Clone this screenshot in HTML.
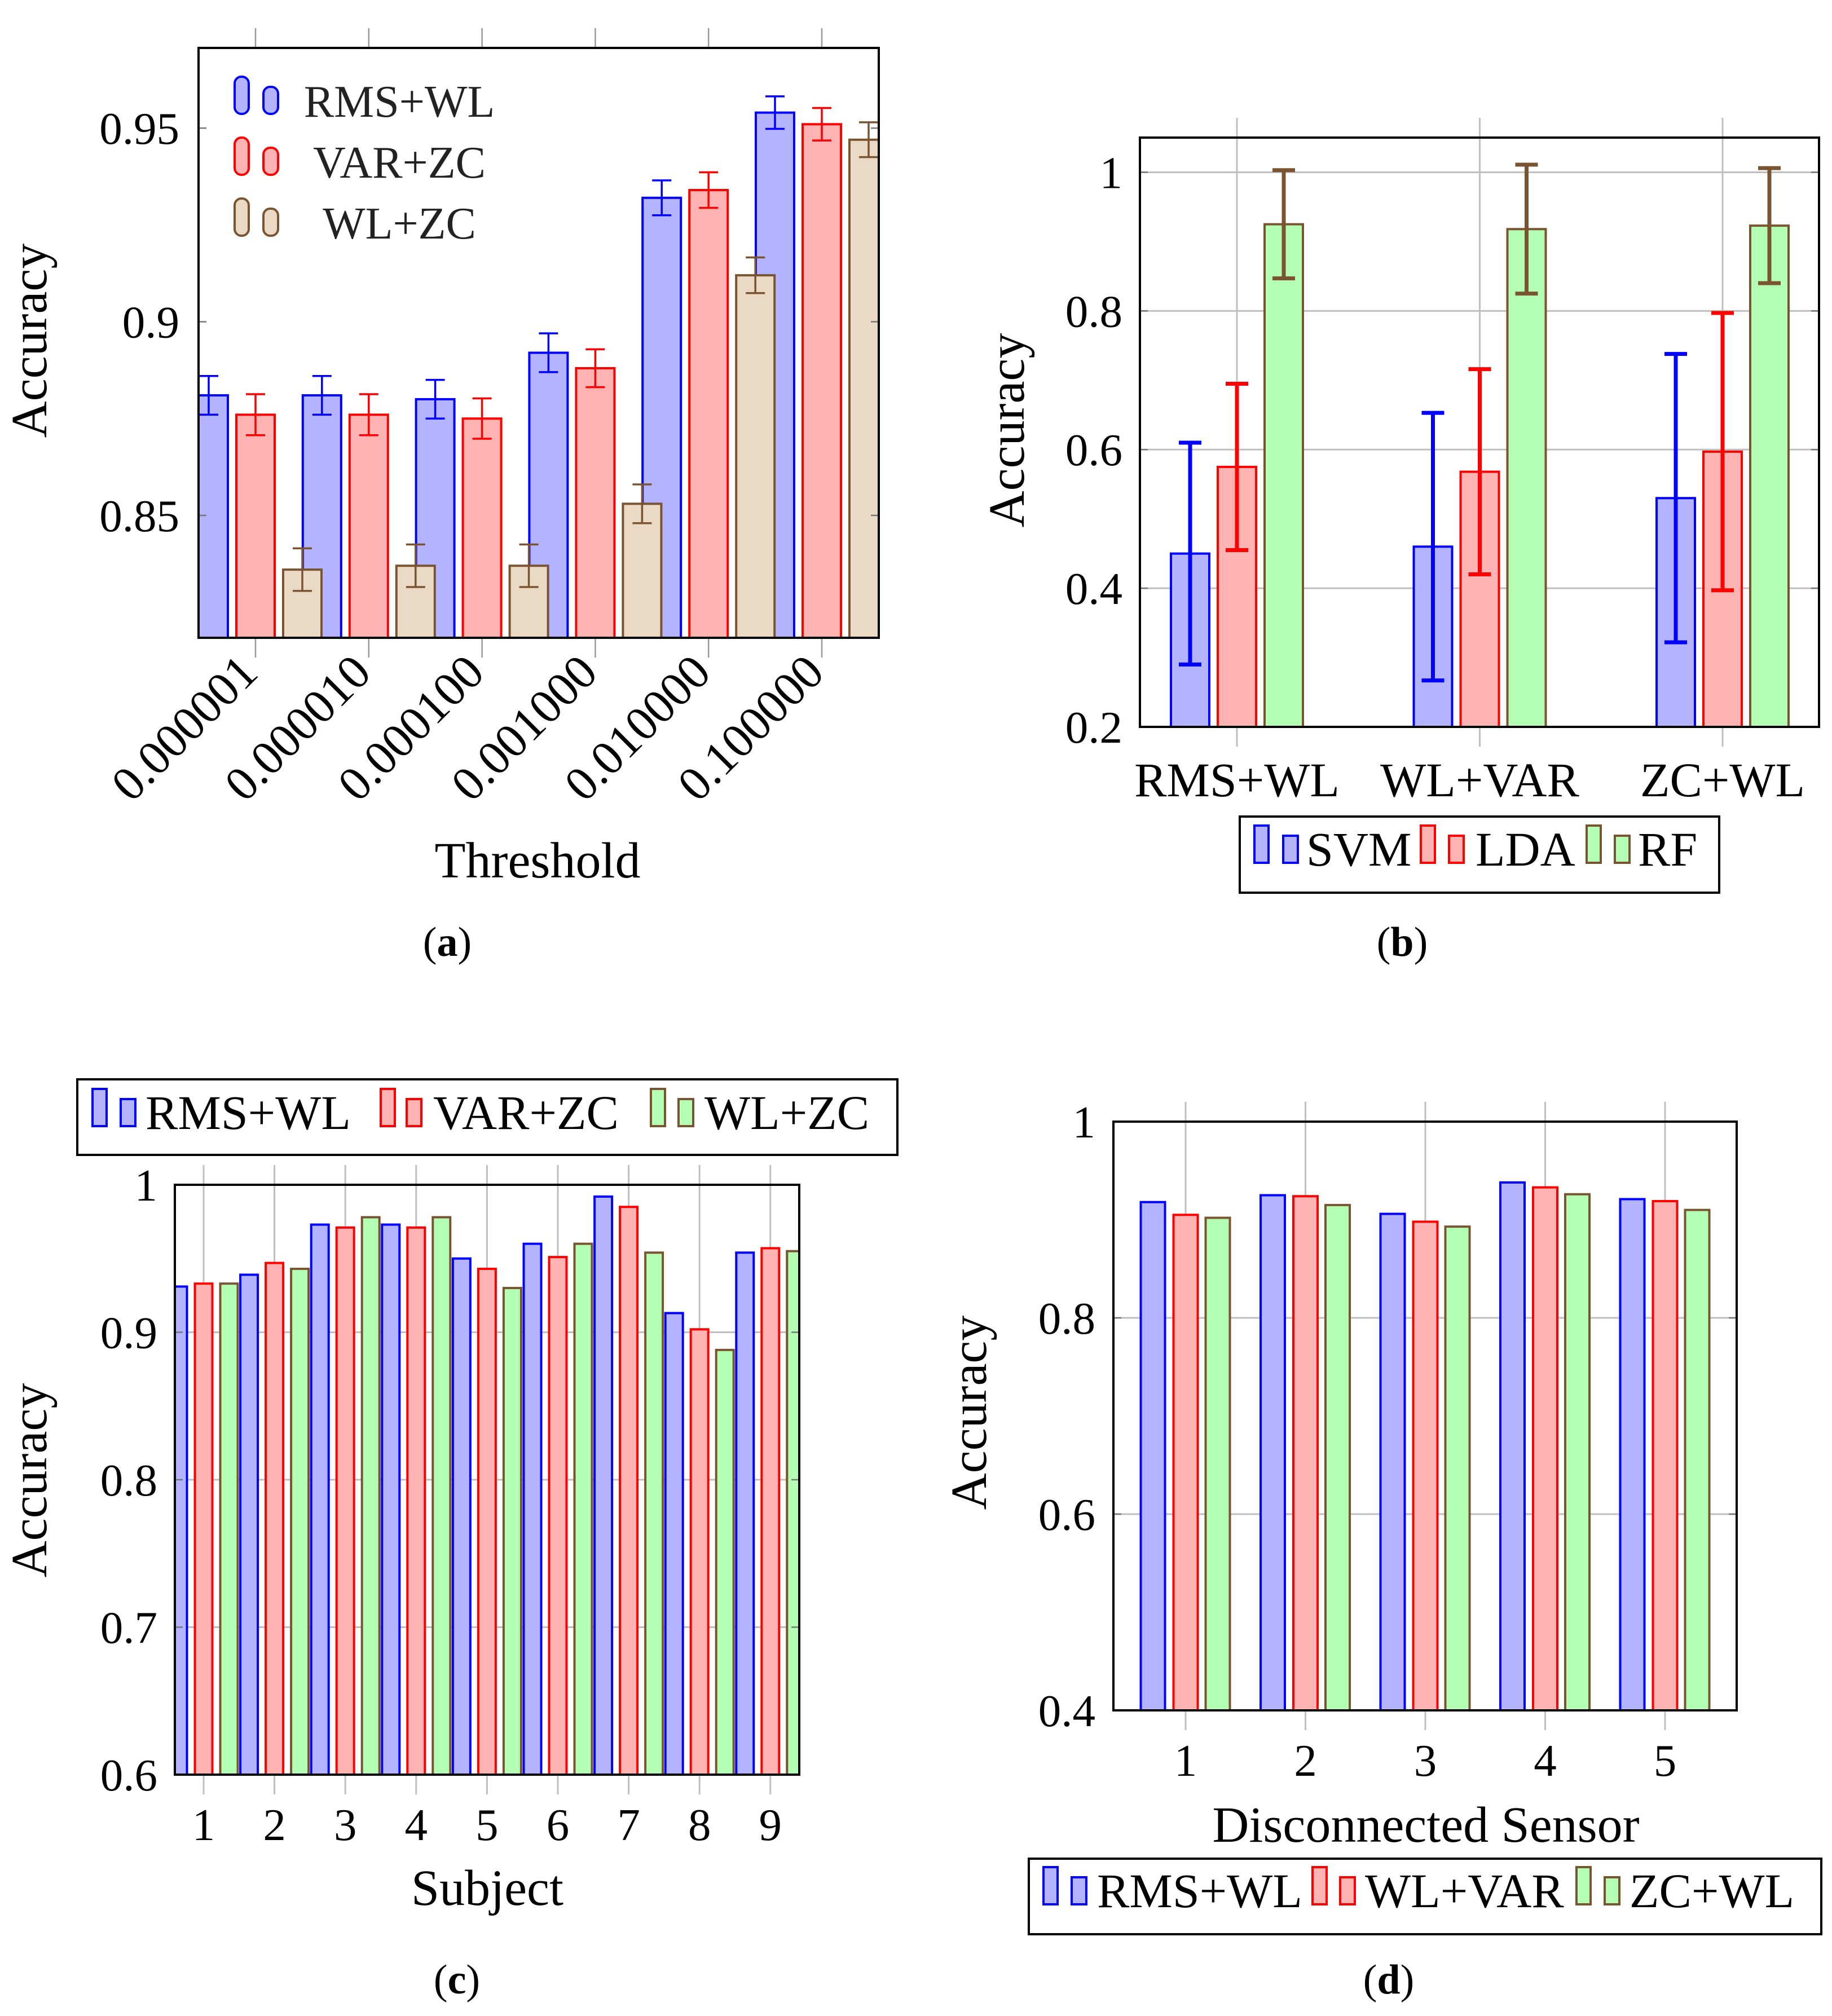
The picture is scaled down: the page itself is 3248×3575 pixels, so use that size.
<!DOCTYPE html>
<html><head><meta charset="utf-8">
<style>
html,body{margin:0;padding:0;background:#fff;}
svg{display:block;font-family:"Liberation Serif","DejaVu Serif",serif;}
</style></head>
<body>
<svg id="fig" width="3248" height="3575" viewBox="0 0 3248 3575" xmlns="http://www.w3.org/2000/svg"></svg>
<script>
// ---- Panel (a) data ----
const aCategories = ["0.000001","0.000010","0.000100","0.001000","0.010000","0.100000"];
const aRms = [0.881,0.881,0.880,0.892,0.932,0.954];
const aVar = [0.876,0.876,0.875,0.888,0.934,0.951];
const aWlzc = [0.836,0.837,0.837,0.853,0.912,0.947];
const aRmsErr = [0.005,0.005,0.005,0.005,0.0045,0.0042];
const aVarErr = [0.0053,0.0053,0.0052,0.0049,0.0046,0.0042];
const aWlzcErr = [0.0055,0.0055,0.0055,0.005,0.0046,0.0045];
const aTicks = [0.85,0.9,0.95];
const aTickLabels = ["0.85","0.9","0.95"];
// ---- Panel (b) data ----
const bCategories = ["RMS+WL","WL+VAR","ZC+WL"];
const bSvm = [0.45,0.46,0.53];
const bLda = [0.575,0.568,0.597];
const bRf = [0.925,0.918,0.923];
const bSvmErr = [0.16,0.193,0.208];
const bLdaErr = [0.12,0.148,0.2];
const bRfErr = [0.078,0.093,0.083];
const bTicks = [0.2,0.4,0.6,0.8,1];
const bTickLabels = ["0.2","0.4","0.6","0.8","1"];
// ---- Panel (c) data ----
const cCategories = ["1","2","3","4","5","6","7","8","9"];
const cRms = [0.931,0.939,0.973,0.973,0.950,0.960,0.992,0.913,0.954];
const cVar = [0.933,0.947,0.971,0.971,0.943,0.951,0.985,0.902,0.957];
const cWlzc = [0.933,0.943,0.978,0.978,0.930,0.960,0.954,0.888,0.955];
const cTicks = [0.6,0.7,0.8,0.9,1];
const cTickLabels = ["0.6","0.7","0.8","0.9","1"];
// ---- Panel (d) data ----
const dCategories = ["1","2","3","4","5"];
const dRms = [0.918,0.925,0.906,0.938,0.921];
const dWlvar = [0.905,0.924,0.898,0.933,0.919];
const dZcwl = [0.902,0.915,0.893,0.926,0.910];
const dTicks = [0.4,0.6,0.8,1];
const dTickLabels = ["0.4","0.6","0.8","1"];

const NS = "http://www.w3.org/2000/svg";
const svg = document.getElementById("fig");
const BLUE={s:"#0000ff",f:"#b3b3ff"}, RED={s:"#ff0000",f:"#ffb3b3"},
      BROWN={s:"#7a5431",f:"#ead9c5"}, GREEN={s:"#7a5431",f:"#b3ffb3"};
const GRID="#bfbfbf";

function mk(tag, attrs, parent){
  const e=document.createElementNS(NS,tag);
  for(const k in attrs) e.setAttribute(k,attrs[k]);
  (parent||svg).appendChild(e); return e;
}
function txt(s, attrs, parent){ const t=mk("text",attrs,parent); t.textContent=s; return t; }

function panel(cfg){
  const g=mk("g",{});
  
  
  const L=cfg.box[0],R=cfg.box[1],T=cfg.box[2],B=cfg.box[3];
  const y=v=>cfg.yBot-(v-cfg.y0)/(cfg.y1-cfg.y0)*(cfg.yBot-cfg.yTop);
  const x=i=>cfg.x0+i*cfg.dx;
  const clip=mk("clipPath",{id:cfg.name+"-clip"},g);
  mk("rect",{x:L,y:T,width:R-L,height:B-T},clip);
  if(cfg.hgrid) cfg.ticks.forEach(v=>{ if(v>cfg.y0+1e-9 && v<cfg.y1-1e-9 && y(v)>T+2){
    const l=mk("line",{x1:L,x2:R,y1:y(v),y2:y(v),stroke:GRID,"stroke-width":3},g);
    
    
  }});
  cfg.cats.forEach((c,i)=>{
    const X=x(i);
    if(cfg.vgrid){
      const l=mk("line",{x1:X,x2:X,y1:T-cfg.tickOut,y2:B+cfg.tickOut,stroke:GRID,"stroke-width":3},g);
      
      
    } else {
      mk("line",{x1:X,x2:X,y1:T-35,y2:T,stroke:"#999","stroke-width":2.5},g);
      mk("line",{x1:X,x2:X,y1:B,y2:B+35,stroke:"#999","stroke-width":2.5},g);
    }
  });
  const bg=mk("g",{"clip-path":"url(#"+cfg.name+"-clip)"},g);
  cfg.series.forEach((s,si)=>{
    s.vals.forEach((v,i)=>{
      const cx=x(i)+s.off;
      const r=mk("rect",{x:cx-cfg.bw/2,y:y(v),width:cfg.bw,height:B-y(v),fill:s.c.f,stroke:s.c.s,"stroke-width":cfg.bsw},bg);
      
      
    });
  });
  cfg.series.forEach(s=>{
    if(!s.err) return;
    s.vals.forEach((v,i)=>{
      const cx=x(i)+s.off, e=s.err[i], w=cfg.capw;
      const eg=mk("g",{stroke:s.ec||s.c.s,"stroke-width":cfg.esw,fill:"none"},bg);
      
      
      mk("line",{x1:cx,x2:cx,y1:y(v-e),y2:y(v+e)},eg);
      mk("line",{x1:cx-w,x2:cx+w,y1:y(v-e),y2:y(v-e)},eg);
      mk("line",{x1:cx-w,x2:cx+w,y1:y(v+e),y2:y(v+e)},eg);
    });
  });
  cfg.ticks.forEach((v,i)=>{
    mk("line",{x1:L,x2:L+14,y1:y(v),y2:y(v),stroke:"#777","stroke-width":2.5},g);
    mk("line",{x1:R-14,x2:R,y1:y(v),y2:y(v),stroke:"#777","stroke-width":2.5},g);
    const t=txt(cfg.tickLabels[i],{x:cfg.ylabX,y:y(v)+28,"text-anchor":"end","font-size":81},g);
    
    
  });
  const bx=mk("rect",{x:L,y:T,width:R-L,height:B-T,fill:"none",stroke:"#000","stroke-width":4},g);
  
  
  cfg.cats.forEach((c,i)=>{
    let t;
    if(cfg.rot){
      const px=x(i)+8, py=B+66;
      t=txt(c,{x:px,y:py,"text-anchor":"end","font-size":86,transform:"rotate(-45 "+px+" "+py+")"},g);
    } else {
      t=txt(c,{x:x(i),y:cfg.xlabY,"text-anchor":"middle","font-size":cfg.xfs||81},g);
    }
    
    
  });
  const yl=txt("Accuracy",{x:0,y:0,"text-anchor":"middle","font-size":90,transform:"translate("+cfg.yTitle[0]+","+cfg.yTitle[1]+") rotate(-90)",dy:30},g);
  
  
  if(cfg.xTitle){
    const xl=txt(cfg.xTitle[0],{x:cfg.xTitle[1],y:cfg.xTitle[2],"text-anchor":"middle","font-size":90},g);
    
    
  }
  const cap=mk("text",{x:cfg.cap[1],y:cfg.cap[2],"text-anchor":"middle","font-size":74},g);
  
  
  cap.innerHTML='(<tspan font-weight="bold">'+cfg.cap[0]+'</tspan>)';
  const lg=mk("g",{},g);
  
  
  const Lg=cfg.legend;
  if(Lg.box) mk("rect",{x:Lg.box[0],y:Lg.box[2],width:Lg.box[1]-Lg.box[0],height:Lg.box[3]-Lg.box[2],fill:"#fff",stroke:"#000","stroke-width":4},lg);
  Lg.items.forEach(it=>{
    const e=mk("g",{},lg);
    
    
    const rr=Lg.round?12:0;
    mk("rect",{x:it.i1,y:it.y-67,width:25,height:66,rx:rr,fill:it.c.f,stroke:it.c.s,"stroke-width":4},e);
    mk("rect",{x:it.i2,y:it.y-49,width:26,height:48,rx:rr,fill:it.c.f,stroke:it.c.s,"stroke-width":4},e);
    txt(it.t,{x:it.tx,y:it.y+4,"text-anchor":it.anchor||"start","font-size":Lg.fs||86,fill:Lg.tc||"#000"},e);
  });
}

// Panel (a)
panel({name:"panel-a",box:[352,1558,85,1131],y0:0.8184,y1:0.9707,yTop:85,yBot:1131,
  x0:453,dx:200.8,bw:68,bsw:4,esw:3.5,capw:17,ticks:aTicks,tickLabels:aTickLabels,ylabX:318,
  cats:aCategories,rot:true,vgrid:false,hgrid:false,
  series:[{key:"rms-wl",vals:aRms,err:aRmsErr,off:-83,c:BLUE},
          {key:"var-zc",vals:aVar,err:aVarErr,off:0,c:RED},
          {key:"wl-zc",vals:aWlzc,err:aWlzcErr,off:83,c:BROWN}],
  yTitle:[52,604],xTitle:["Threshold",953,1556],cap:["a",793,1695],
  legend:{round:true,tc:"#222",fs:80,items:[
    {i1:416,i2:467,y:203,tx:708,anchor:"middle",t:"RMS+WL",c:BLUE},
    {i1:416,i2:467,y:311,tx:708,anchor:"middle",t:"VAR+ZC",c:RED},
    {i1:416,i2:467,y:419,tx:708,anchor:"middle",t:"WL+ZC",c:BROWN}]}
});
// Panel (b)
panel({name:"panel-b",box:[2021,3225,244,1289],y0:0.2,y1:1.05,yTop:244,yBot:1289,
  x0:2193,dx:430.5,bw:68,bsw:4,esw:7,capw:20,ticks:bTicks,tickLabels:bTickLabels,ylabX:1990,
  cats:bCategories,xlabY:1412,xfs:86,vgrid:true,hgrid:true,tickOut:35,
  series:[{key:"svm",vals:bSvm,err:bSvmErr,off:-83,c:BLUE},
          {key:"lda",vals:bLda,err:bLdaErr,off:0,c:RED},
          {key:"rf",vals:bRf,err:bRfErr,off:83,c:GREEN}],
  yTitle:[1785,763],cap:["b",2486,1695],
  legend:{box:[2198,3048,1448,1583],items:[
    {i1:2224,i2:2275,y:1531,tx:2316,t:"SVM",c:BLUE},
    {i1:2519,i2:2569,y:1531,tx:2616,t:"LDA",c:RED},
    {i1:2813,i2:2863,y:1531,tx:2904,t:"RF",c:GREEN}]}
});
// Panel (c)
panel({name:"panel-c",box:[310,1417,2101,3147],y0:0.6,y1:1.0,yTop:2101,yBot:3147,
  x0:361,dx:125.6,bw:31,bsw:4,ticks:cTicks,tickLabels:cTickLabels,ylabX:279,
  cats:cCategories,xlabY:3263,vgrid:true,hgrid:true,tickOut:35,
  series:[{key:"rms-wl",vals:cRms,off:-45,c:BLUE},
          {key:"var-zc",vals:cVar,off:0,c:RED},
          {key:"wl-zc",vals:cWlzc,off:45,c:GREEN}],
  yTitle:[52,2625],xTitle:["Subject",864,3378],cap:["c",810,3535],
  legend:{box:[137,1591,1914,2048],items:[
    {i1:164,i2:214,y:1998,tx:258,t:"RMS+WL",c:BLUE},
    {i1:675,i2:721,y:1998,tx:768,t:"VAR+ZC",c:RED},
    {i1:1154,i2:1203,y:1998,tx:1249,t:"WL+ZC",c:GREEN}]}
});
// Panel (d)
panel({name:"panel-d",box:[1974,3079,1989,3033],y0:0.4,y1:1.0,yTop:1989,yBot:3033,
  x0:2102,dx:212.5,bw:43,bsw:4,ticks:dTicks,tickLabels:dTickLabels,ylabX:1942,
  cats:dCategories,xlabY:3149,vgrid:true,hgrid:true,tickOut:35,
  series:[{key:"rms-wl",vals:dRms,off:-58,c:BLUE},
          {key:"wl-var",vals:dWlvar,off:0,c:RED},
          {key:"zc-wl",vals:dZcwl,off:57,c:GREEN}],
  yTitle:[1718,2505],xTitle:["Disconnected Sensor",2528,3266],cap:["d",2462,3535],
  legend:{box:[1824,3229,3296,3430],items:[
    {i1:1850,i2:1900,y:3378,tx:1945,t:"RMS+WL",c:BLUE},
    {i1:2327,i2:2376,y:3378,tx:2420,t:"WL+VAR",c:RED},
    {i1:2795,i2:2845,y:3378,tx:2889,t:"ZC+WL",c:GREEN}]}
});
</script>
</body></html>
